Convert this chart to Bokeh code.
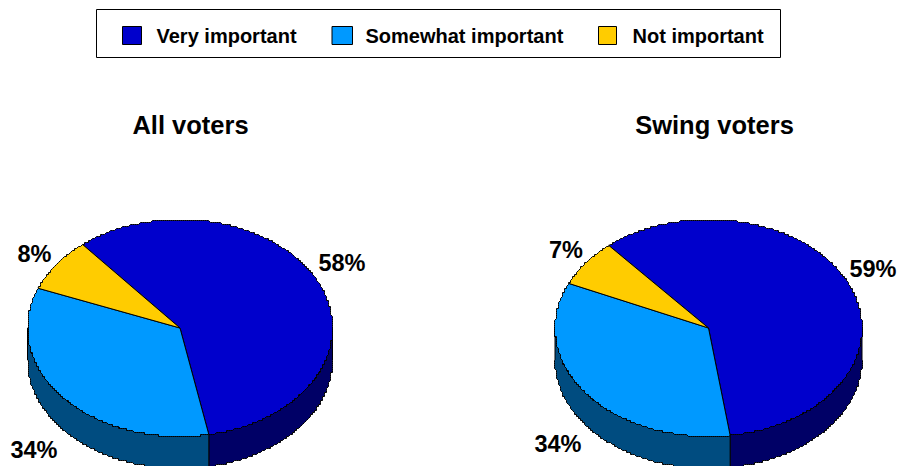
import numpy as np
from bokeh.core.properties import value
from bokeh.embed import file_html
from bokeh.models import Range1d
from bokeh.plotting import figure
from bokeh.resources import INLINE

categories = ["Very important", "Somewhat important", "Not important"]
all_voters = [58, 34, 8]
swing_voters = [59, 34, 7]
pie_titles = ["All voters", "Swing voters"]
top_colors = ["#0000CC", "#0099FF", "#FFCC00"]
side_colors = ["#000066", "#004C80", "#806600"]

W, H = 897, 466
FONT = value("Liberation Sans")
RY = 108.5
DEPTH = 32


def rim(cx, cy, rx, a0, a1, dy=0.0, step=2.0):
    """Stepped elliptical rim between two angles, for the printed pie look."""
    n = max(2, int(abs(a1 - a0) * 2))
    t = np.radians(np.linspace(a0, a1, n))
    x = cx + rx * np.sin(t)
    y = cy - RY * np.cos(t)
    xq = np.round(x / step) * step
    yq = np.round(y / step) * step
    # keep the exact end points so neighbouring slices meet cleanly
    xq[0], yq[0], xq[-1], yq[-1] = x[0], y[0], x[-1], y[-1]
    return xq, yq + dy


p = figure(width=W, height=H, output_backend="svg", toolbar_location=None,
           x_range=Range1d(0, W), y_range=Range1d(H, 0), min_border=0,
           outline_line_color=None, x_axis_location=None, y_axis_location=None)
p.grid.visible = False
p.background_fill_color = "white"
p.border_fill_color = "white"


def draw_pie(values, cx, cy, rx, start):
    # start is in degrees clockwise from twelve o'clock
    edges = start + np.cumsum([0] + list(values)) * 3.6
    # extruded wall: only the near half of the rim is visible
    for i, v in enumerate(values):
        a0, a1 = max(edges[i], 90.0), min(edges[i + 1], 270.0)
        if a1 <= a0:
            continue
        xt, yt = rim(cx, cy, rx, a0, a1)
        xb, yb = rim(cx, cy, rx, a0, a1, dy=DEPTH)
        p.patch(np.r_[xt, xb[::-1]], np.r_[yt, yb[::-1]],
                fill_color=side_colors[i], line_color="black", line_width=1)
    # top face
    for i, v in enumerate(values):
        x, y = rim(cx, cy, rx, edges[i], edges[i + 1])
        p.patch(np.r_[cx, x], np.r_[cy, y], fill_color=top_colors[i],
                line_color="black", line_width=1)


draw_pie(all_voters, 179.5, 327.5, 152.5, -39.7)
draw_pie(swing_voters, 708.0, 327.5, 153.5, -40.5)

# legend frame, swatches and names
p.quad(left=[96], right=[780], top=[9], bottom=[57], fill_color="white",
       line_color="black", line_width=1)
p.quad(left=[122, 331.5, 598], right=[141, 352, 616], top=[26] * 3, bottom=[44] * 3,
       fill_color=top_colors, line_color="black", line_width=1)
p.text(x=[156, 365, 632], y=[35] * 3, text=categories, text_font=FONT,
       text_font_style="bold", text_font_size="20px", text_baseline="middle",
       text_color="black")

# pie headings
p.text(x=[190, 714], y=[124] * 2, text=pie_titles, text_font=FONT, text_align="center",
       text_font_style="bold", text_font_size="25.5px", text_baseline="middle",
       text_color="black")

# share labels, all voters then swing voters
shares = all_voters + swing_voters
p.text(x=[341.5, 33.5, 34, 872.5, 557.5, 565.5], y=[262, 449.5, 253, 268, 443, 249],
       text=[f"{s}%" for s in shares], text_font=FONT, text_align="center",
       text_font_style="bold", text_font_size="23.5px", text_baseline="middle",
       text_color="black")

open("out.html", "w").write(file_html(p, INLINE))
